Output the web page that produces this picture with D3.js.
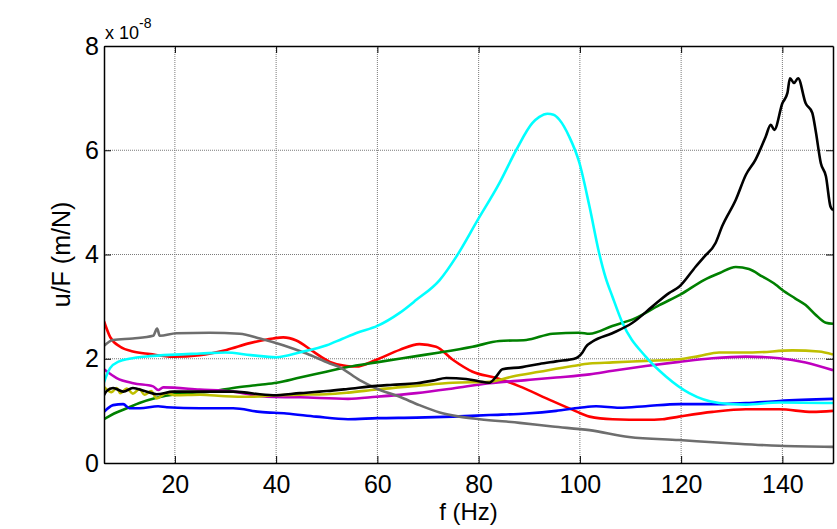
<!DOCTYPE html>
<html>
<head>
<meta charset="utf-8">
<script src="https://d3js.org/d3.v7.min.js"></script>
<style>
  body { margin: 0; background: #fff; }
  text { font-family: "Liberation Sans", Arial, sans-serif; }
</style>
</head>
<body>
<svg id="drawing_region"></svg>
<script>
// values, f in Hz, u/F in units of 1e-8 m/N
const cyan = [[6,1.55],[7.2,1.82],[9,1.95],[11,2.0],[15,2.05],[20,2.08],[25,2.1],[30,2.12],[35,2.07],[40,2.03],[45,2.13],[50,2.26],[53,2.38],[56,2.5],[60,2.63],[64.4,2.88],[67.7,3.13],[72.3,3.51],[75.6,3.96],[79.8,4.66],[84.1,5.37],[87.4,6.0],[90.6,6.52],[92,6.64],[93.6,6.70],[94.8,6.68],[96,6.58],[97.9,6.26],[99.9,5.76],[101.9,4.92],[103.8,4.03],[105.1,3.55],[106.4,3.2],[108.4,2.69],[113,2.04],[117,1.66],[121.6,1.34],[127.5,1.15],[132.8,1.12],[139.4,1.16],[150,1.15]];
const black = [[6,1.30],[6.5,1.38],[7.8,1.44],[9.8,1.37],[11.7,1.44],[14,1.38],[16.4,1.32],[19.7,1.37],[25,1.37],[31.5,1.37],[39.4,1.30],[44.7,1.34],[50,1.38],[54.1,1.42],[59.8,1.48],[63,1.50],[67.7,1.53],[71,1.58],[73.6,1.63],[77.5,1.61],[80,1.57],[82.1,1.54],[83.5,1.66],[84.7,1.80],[88.6,1.84],[92,1.90],[95.3,1.95],[99.2,2.01],[100.5,2.12],[101.2,2.23],[102.5,2.33],[106.4,2.49],[110.4,2.69],[114.3,3.0],[117.6,3.26],[119.6,3.38],[122.9,3.77],[124.5,3.95],[126.8,4.22],[128.1,4.54],[130.8,5.05],[132.8,5.53],[134.7,5.82],[136.7,6.26],[137.7,6.49],[138.4,6.39],[140,6.90],[141,7.10],[141.5,7.38],[142.3,7.29],[143.1,7.38],[144.6,6.90],[145.9,6.72],[146.6,6.36],[147.6,5.75],[148.6,5.50],[149.5,4.92],[150,4.85]];
const green = [[6,0.84],[8,0.95],[10.5,1.05],[13,1.15],[16.4,1.25],[21.6,1.34],[26.9,1.37],[31.5,1.44],[36.8,1.50],[40.1,1.54],[44.7,1.64],[49.9,1.75],[54.1,1.84],[59.8,1.93],[67.7,2.05],[72.3,2.12],[78.8,2.23],[84.1,2.34],[89.4,2.36],[94.6,2.48],[99.9,2.50],[101.9,2.48],[106.4,2.63],[111,2.78],[115.7,3.03],[120,3.24],[124.5,3.51],[127.5,3.64],[130.8,3.76],[133.4,3.72],[136,3.58],[138.7,3.42],[140,3.32],[142.5,3.16],[144.6,3.03],[146.5,2.85],[148.6,2.69],[150,2.67]];
const red = [[6,2.72],[7.2,2.42],[9.2,2.23],[11.7,2.14],[15.1,2.09],[19.6,2.04],[24.9,2.07],[30.2,2.17],[34.8,2.30],[39.4,2.39],[41.4,2.41],[44,2.35],[47.3,2.14],[50.6,1.94],[53.9,1.86],[55.8,1.85],[59.8,1.98],[64.4,2.17],[68.3,2.28],[71.6,2.23],[74.9,1.98],[78.8,1.75],[83.5,1.63],[88.1,1.47],[93.4,1.24],[98.6,1.02],[101.9,0.89],[106.5,0.84],[113,0.83],[116.3,0.84],[119.6,0.89],[126.2,0.98],[132.8,1.03],[139.4,1.03],[145.9,0.98],[150,1.0]];
const gray = [[6,2.25],[7.8,2.36],[11.7,2.39],[15.7,2.44],[16.5,2.58],[17,2.44],[20.3,2.49],[26.9,2.50],[32.8,2.48],[36.8,2.39],[41.4,2.26],[46,2.10],[50.6,1.91],[52.5,1.84],[56.5,1.59],[59.8,1.43],[64.4,1.27],[68.3,1.11],[72.3,0.97],[76.2,0.89],[80.2,0.84],[88.1,0.77],[94.6,0.70],[101.9,0.63],[109.7,0.50],[119.6,0.44],[129.5,0.38],[139.4,0.33],[150,0.31]];
const magenta = [[6,1.80],[8.5,1.63],[11.8,1.53],[15.7,1.47],[16.7,1.40],[17.7,1.45],[24.9,1.41],[31.5,1.37],[38.1,1.27],[44.7,1.26],[54.2,1.23],[59.8,1.27],[67.7,1.34],[74.9,1.43],[82.1,1.53],[89.4,1.59],[95.3,1.64],[101.9,1.70],[106.5,1.77],[113,1.86],[119.6,1.94],[126.2,2.01],[132.8,2.04],[139.4,2.01],[144.6,1.93],[150,1.78]];
const yellow = [[6,1.46],[7.5,1.36],[8.5,1.44],[9.2,1.34],[10.5,1.43],[11.7,1.33],[13,1.42],[14,1.31],[15.3,1.38],[16.4,1.24],[18.4,1.34],[20,1.30],[25,1.31],[30,1.28],[34.8,1.27],[40,1.30],[44.7,1.31],[50,1.32],[54.2,1.35],[59.8,1.41],[67.7,1.48],[74.9,1.54],[82.1,1.56],[86.7,1.66],[92,1.75],[98.6,1.86],[101.9,1.91],[106.5,1.93],[113,1.96],[119.6,1.99],[123.5,2.05],[127.5,2.12],[134.1,2.12],[142,2.16],[147.2,2.14],[150,2.08]];
const blue = [[6,0.98],[7.8,1.11],[9.8,1.13],[11,1.05],[13.1,1.05],[16.7,1.09],[18.4,1.07],[25,1.05],[31.5,1.05],[36.8,0.98],[42,0.95],[47.9,0.89],[54.2,0.84],[60,0.86],[67.7,0.87],[74.9,0.89],[82.1,0.92],[89.4,0.95],[95.3,1.0],[100,1.06],[103.2,1.09],[107.8,1.06],[113,1.09],[119.6,1.13],[127.5,1.13],[132.8,1.15],[139.4,1.19],[150,1.23]];

const xticks = [20, 40, 60, 80, 100, 120, 140];
const yticks = [0, 2, 4, 6, 8];

const series = [
  { data: red, color: '#ff0000' },
  { data: green, color: '#008000' },
  { data: blue, color: '#0000ff' },
  { data: magenta, color: '#bf00bf' },
  { data: yellow, color: '#bfbf00' },
  { data: gray, color: '#6e6e6e' },
  { data: cyan, color: '#00ffff' },
  { data: black, color: '#000000' }
];

const width = 837, height = 529;
const margin = {top: 46, right: 4, bottom: 66, left: 104};
const inner_width = width - margin.left - margin.right;
const inner_height = height - margin.top - margin.bottom;

const svg = d3.select('#drawing_region')
  .attr('width', width)
  .attr('height', height);

const chart = svg.append('g')
  .attr('transform', `translate(${margin.left}, ${margin.top})`);

const xscale = d3.scaleLinear().domain([6, 150]).range([0, inner_width]);
const yscale = d3.scaleLinear().domain([0, 8]).range([inner_height, 0]);

// dotted grid
chart.append('g').selectAll('line')
  .data(xticks)
  .join('line')
  .attr('x1', d => xscale(d)).attr('x2', d => xscale(d))
  .attr('y1', 0).attr('y2', inner_height)
  .attr('stroke', '#7a7a7a').attr('stroke-width', 1)
  .attr('stroke-dasharray', '1,1');
chart.append('g').selectAll('line')
  .data(yticks.slice(1, -1))
  .join('line')
  .attr('x1', 0).attr('x2', inner_width)
  .attr('y1', d => yscale(d)).attr('y2', d => yscale(d))
  .attr('stroke', '#7a7a7a').attr('stroke-width', 1)
  .attr('stroke-dasharray', '1,1');

chart.append('clipPath').attr('id', 'plot_clip')
  .append('rect').attr('width', inner_width).attr('height', inner_height);

const line = d3.line()
  .x(d => xscale(d[0]))
  .y(d => yscale(d[1]))
  .curve(d3.curveMonotoneX);

chart.append('g').attr('clip-path', 'url(#plot_clip)')
  .selectAll('path')
  .data(series)
  .join('path')
  .attr('d', d => line(d.data))
  .attr('fill', 'none')
  .attr('stroke', d => d.color)
  .attr('stroke-width', 2.6)
  .attr('stroke-linejoin', 'round');

// axes, ticks pointing inward on all four sides
const xaxis = d3.axisBottom(xscale).tickValues(xticks).tickSizeInner(-7).tickSizeOuter(0).tickPadding(12);
const yaxis = d3.axisLeft(yscale).tickValues(yticks).tickSizeInner(-7).tickSizeOuter(0).tickPadding(5);

const xg = chart.append('g').attr('transform', `translate(0, ${inner_height})`).call(xaxis);
const yg = chart.append('g').call(yaxis);
chart.append('g')
  .call(d3.axisTop(xscale).tickValues(xticks).tickSizeInner(-7).tickSizeOuter(0).tickFormat(''));
chart.append('g').attr('transform', `translate(${inner_width}, 0)`)
  .call(d3.axisRight(yscale).tickValues(yticks).tickSizeInner(-7).tickSizeOuter(0).tickFormat(''));

chart.selectAll('.domain').attr('stroke', '#000').attr('stroke-width', 1.5);
chart.selectAll('.tick line').attr('stroke', '#000');
[xg, yg].forEach(g => g.selectAll('text')
  .attr('font-size', 25)
  .attr('fill', '#000')
  .attr('font-family', '"Liberation Sans", Arial, sans-serif'));

// exponent label
const expo = svg.append('text')
  .attr('x', margin.left + 1)
  .attr('y', 39)
  .attr('font-size', 18);
expo.append('tspan').text('x 10');
expo.append('tspan').attr('dy', -11).attr('font-size', 14).text('-8');

svg.append('text')
  .attr('x', margin.left + inner_width / 2)
  .attr('y', 520)
  .attr('text-anchor', 'middle')
  .attr('font-size', 24)
  .text('f (Hz)');

svg.append('text')
  .attr('transform', `translate(70, ${margin.top + inner_height / 2}) rotate(-90)`)
  .attr('text-anchor', 'middle')
  .attr('font-size', 25)
  .text('u/F (m/N)');
</script>
</body>
</html>
